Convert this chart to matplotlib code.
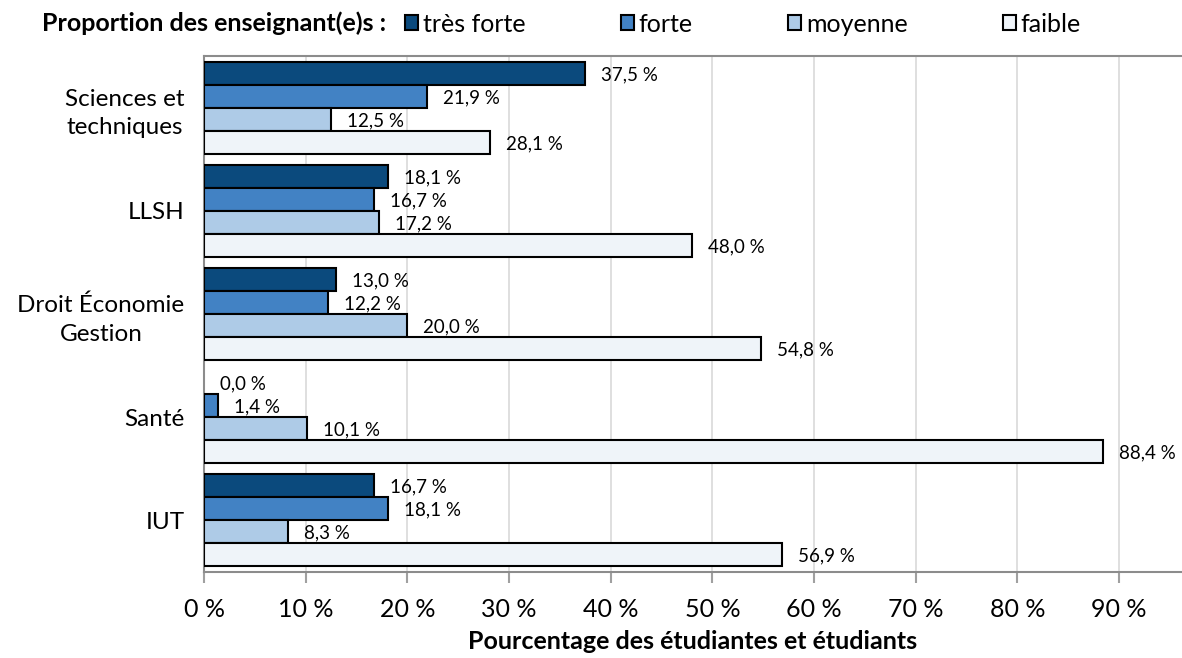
import numpy as np
import matplotlib
matplotlib.use("Agg")
import matplotlib.pyplot as plt
from matplotlib.patches import Patch

plt.rcParams["font.family"] = ["Lato", "DejaVu Sans"]

# Data
categories = ["Sciences et\ntechniques", "LLSH", "Droit Économie\nGestion", "Santé", "IUT"]
series_names = ["très forte", "forte", "moyenne", "faible"]
tres_forte = [37.5, 18.1, 13.0, 0.0, 16.7]
forte = [21.9, 16.7, 12.2, 1.4, 18.1]
moyenne = [12.5, 17.2, 20.0, 10.1, 8.3]
faible = [28.1, 48.0, 54.8, 88.4, 56.9]
colors = ["#0B4A7D", "#4282C4", "#AECBE7", "#EFF4F9"]

values = [tres_forte, forte, moyenne, faible]

fig = plt.figure(figsize=(11.82, 6.58), dpi=100)
ax = fig.add_axes([204 / 1182, 1 - 572 / 658, 1 - 204 / 1182, (572 - 56) / 658])

y = np.arange(len(categories))
h = 0.223
for i, (vals, name, col) in enumerate(zip(values, series_names, colors)):
    pos = y + (i - 1.5) * h
    ax.barh(pos, vals, height=h, color=col,
            edgecolor=["black" if v > 0 else "none" for v in vals],
            linewidth=1.5, label=name, zorder=3)
    for p, v in zip(pos, vals):
        ax.annotate(f"{v:.1f} %".replace(".", ","), xy=(v, p),
                    xytext=(11.5, -1), textcoords="offset points",
                    ha="left", va="center", fontsize=13.5, zorder=4)

ax.set_xlim(0, 96.2)
ax.set_ylim(len(categories) - 0.5, -0.5)
ax.set_xticks(np.arange(0, 100, 10))
ax.set_xticklabels([f"{t} %" for t in range(0, 100, 10)], fontsize=18)
ax.set_yticks(y)
ax.set_yticklabels(categories, fontsize=17.5, multialignment="center",
                   linespacing=1.45)
ax.tick_params(axis="y", length=0, pad=14)
ax.tick_params(axis="x", length=8, width=1.5, color="#A0A0A0", pad=11)
ax.grid(axis="x", color="#D9D9D9", linewidth=1.2, zorder=0)

for s in ["left", "top", "bottom"]:
    ax.spines[s].set_color("#8C8C8C")
    ax.spines[s].set_linewidth(1.5)
ax.spines["right"].set_visible(False)

ax.set_xlabel("Pourcentage des étudiantes et étudiants", fontsize=18,
              fontweight="bold", labelpad=6)

fig.text(42 / 1182, 1 - 23 / 658, "Proportion des enseignant(e)s :",
         fontsize=18, fontweight="bold", ha="left", va="center")
handles = [Patch(facecolor=c, edgecolor="black", linewidth=1.5) for c in colors]
fig.legend(handles, series_names, ncol=4, loc="center left",
           bbox_to_anchor=(405 / 1182, 1 - 24 / 658), frameon=False,
           fontsize=18, handlelength=0.52, handleheight=0.52,
           handletextpad=0.2, columnspacing=3.8, borderpad=0, borderaxespad=0)

fig.savefig("out.png", dpi=100)
